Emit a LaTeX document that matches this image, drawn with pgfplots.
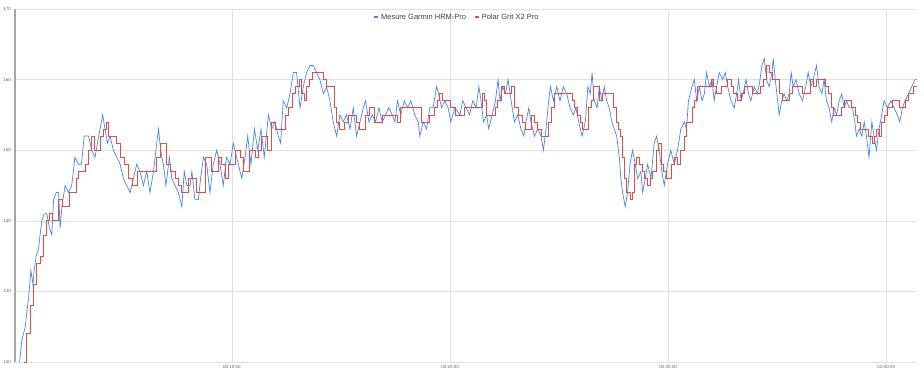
\documentclass[border=0pt]{standalone}
\usepackage{fontspec}
\setmainfont{Liberation Sans}
\usepackage{pgfplots}
\pgfplotsset{compat=1.18}
\definecolor{gblue}{HTML}{4285F4}
\definecolor{gred}{HTML}{EA4A3E}
\begin{document}
\begin{tikzpicture}
\path (-15pt,-13pt) rectangle (909pt,362pt);
\begin{axis}[
  at={(0pt,0pt)}, anchor=south west,
  scale only axis, width=902pt, height=353pt,
  xmin=0.05, xmax=41.41, ymin=120, ymax=170,
  axis lines*=left,
  x axis line style={draw=none},
  y axis line style={draw=black!35, line width=1.2pt},
  major tick length=0pt,
  tick style={draw=none},
  grid=major,
  grid style={draw=black!12, line width=0.6pt},
  ytick={120,130,140,150,160,170},
  xtick={10,20,30,40},
  xticklabels={00:10:00,00:20:00,00:30:00,00:40:00},
  /pgf/number format/assume math mode=true,
  tick label style={font=\fontsize{4.5}{5}\selectfont, text=black!60},
  yticklabel style={xshift=-0.5pt},
  legend style={at={(0.49,0.977)}, anchor=center, draw=none, fill=none,
    font=\fontsize{7.5}{9}\selectfont, text=black!75,
    legend columns=2, /tikz/every even column/.append style={column sep=6pt},
    inner sep=0pt},
  legend cell align=left,
]
\addplot[gblue, line width=0.7pt, sharp plot, legend image code/.code={\draw[line width=1.6pt] (0pt,0pt)--(4pt,0pt);}] coordinates {
(0.26,120)(0.36,123)(0.44,124)(0.52,125)(0.59,127)(0.67,129)(0.78,133)(0.87,131)(0.93,133)(1.02,135)
(1.13,136)(1.20,138)(1.28,140)(1.39,141)(1.51,141)(1.63,139)(1.74,138)(1.82,143)(1.94,144)(2.05,144)
(2.12,139)(2.20,142)(2.35,145)(2.50,144)(2.65,145)(2.80,149)(2.96,148)(3.10,148)(3.22,152)(3.42,152)
(3.57,150)(3.72,149)(3.83,151)(3.95,153)(4.07,155)(4.18,153)(4.29,151)(4.41,152)(4.56,150)(4.72,149)
(4.87,148)(5.02,146)(5.17,145)(5.33,144)(5.48,146)(5.63,148)(5.78,147)(5.94,145)(6.09,147)(6.24,144)
(6.40,147)(6.55,151)(6.63,153)(6.73,150)(6.85,148)(6.97,145)(7.13,149)(7.24,146)(7.39,145)(7.54,144)
(7.70,142)(7.81,147)(7.93,145)(8.08,145)(8.16,147)(8.30,143)(8.46,143)(8.56,146)(8.69,149)(8.84,148)
(8.99,144)(9.14,148)(9.30,150)(9.45,148)(9.60,145)(9.75,149)(9.91,148)(10.06,151)(10.21,149)(10.29,148)
(10.45,146)(10.60,149)(10.72,152)(10.87,148)(11.03,153)(11.18,150)(11.33,153)(11.48,149)(11.67,155)(11.82,153)
(11.97,154)(12.12,152)(12.23,151)(12.35,157)(12.51,156)(12.66,158)(12.81,161)(12.96,161)(13.12,156)(13.27,159)
(13.42,161)(13.58,162)(13.73,162)(13.88,161)(14.03,160)(14.19,158)(14.34,159)(14.49,157)(14.64,154)(14.80,152)
(14.95,155)(15.10,154)(15.25,155)(15.41,153)(15.56,156)(15.71,152)(15.87,154)(16.02,156)(16.12,157)(16.28,154)
(16.43,155)(16.58,154)(16.74,156)(16.89,154)(17.04,155)(17.19,156)(17.35,155)(17.47,154)(17.59,157)(17.74,155)
(17.90,157)(18.05,156)(18.20,157)(18.38,155)(18.54,154)(18.61,152)(18.77,154)(18.92,153)(19.07,156)(19.22,156)
(19.38,159)(19.48,158)(19.61,156)(19.76,157)(19.91,156)(20.03,154)(20.22,156)(20.45,155)(20.58,157)(20.74,156)
(20.89,155)(21.04,157)(21.19,156)(21.32,159)(21.42,157)(21.53,154)(21.68,155)(21.77,153)(21.93,155)(22.08,157)
(22.20,160)(22.29,157)(22.41,159)(22.54,158)(22.66,160)(22.80,157)(22.95,154)(23.10,155)(23.25,153)(23.38,152)
(23.48,154)(23.61,156)(23.71,154)(23.87,152)(24.02,153)(24.17,152)(24.28,150)(24.40,153)(24.52,157)(24.60,159)
(24.74,157)(24.89,159)(25.04,157)(25.19,159)(25.35,158)(25.50,156)(25.65,155)(25.77,156)(25.90,154)(26.05,152)
(26.20,154)(26.32,159)(26.43,158)(26.51,161)(26.61,157)(26.74,156)(26.84,159)(26.96,157)(27.07,159)(27.18,157)
(27.30,156)(27.42,154)(27.53,153)(27.64,152)(27.76,149)(27.83,146)(27.91,144)(28.03,142)(28.14,144)(28.25,148)
(28.37,150)(28.49,148)(28.60,146)(28.75,147)(28.83,144)(28.95,146)(29.06,148)(29.21,146)(29.36,151)(29.47,152)
(29.59,150)(29.71,147)(29.82,145)(29.97,148)(30.12,150)(30.28,148)(30.43,150)(30.58,153)(30.74,154)(30.84,153)
(30.93,157)(31.09,159)(31.20,160)(31.31,157)(31.43,159)(31.55,157)(31.66,158)(31.76,161)(31.89,159)(32.01,160)
(32.11,157)(32.22,159)(32.34,161)(32.50,160)(32.62,161)(32.73,159)(32.88,157)(33.03,156)(33.14,158)(33.23,160)
(33.34,157)(33.44,158)(33.57,160)(33.69,158)(33.79,157)(33.95,159)(34.10,158)(34.21,160)(34.30,162)(34.41,163)
(34.51,160)(34.63,159)(34.76,161)(34.82,163)(34.91,160)(35.02,157)(35.09,155)(35.21,157)(35.32,158)(35.43,157)
(35.55,158)(35.64,161)(35.73,159)(35.86,160)(36.01,158)(36.16,157)(36.31,159)(36.42,161)(36.54,159)(36.65,160)
(36.80,162)(36.92,159)(37.05,158)(37.15,160)(37.26,157)(37.38,156)(37.50,154)(37.61,156)(37.72,155)(37.84,157)
(37.96,158)(38.07,156)(38.18,157)(38.30,156)(38.45,156)(38.56,154)(38.63,152)(38.76,153)(38.88,152)(38.99,154)
(39.09,152)(39.21,149)(39.34,154)(39.44,152)(39.55,150)(39.67,153)(39.79,155)(39.90,157)(40.05,156)(40.21,157)
(40.36,156)(40.51,155)(40.62,154)(40.74,156)(40.86,157)(41.02,158)(41.17,159)(41.32,160)(41.41,160)
};
\addlegendentry{Mesure Garmin HRM-Pro}
\addplot[gred, line width=0.7pt, const plot, legend image code/.code={\draw[line width=1.6pt] (0pt,0pt)--(4pt,0pt);}] coordinates {
(0.47,120)(0.59,124)(0.75,128)(0.90,131)(1.05,134)(1.20,135)(1.36,138)(1.51,140)(1.63,141)(1.74,140)
(1.89,140)(2.05,143)(2.20,142)(2.40,142)(2.55,144)(2.73,144)(2.85,146)(2.96,147)(3.10,147)(3.27,148)
(3.42,150)(3.53,152)(3.68,150)(3.88,150)(3.98,152)(4.10,153)(4.23,154)(4.33,152)(4.49,152)(4.68,151)
(4.87,149)(5.07,148)(5.25,146)(5.41,145)(5.56,145)(5.68,147)(6.40,147)(6.55,149)(6.70,151)(6.85,151)
(6.97,148)(7.16,147)(7.39,146)(7.54,145)(7.70,144)(7.85,144)(8.00,146)(8.20,146)(8.38,144)(8.61,144)
(8.76,149)(8.99,149)(9.07,147)(9.22,147)(9.37,149)(9.52,148)(9.68,146)(9.83,148)(9.98,148)(10.14,150)
(10.37,149)(10.52,147)(10.67,147)(10.78,150)(10.98,150)(11.09,149)(11.21,150)(11.36,152)(11.51,152)(11.62,150)
(11.79,154)(11.97,153)(12.35,153)(12.46,155)(12.58,156)(12.77,158)(12.92,159)(13.07,160)(13.19,158)(13.32,157)
(13.42,159)(13.53,160)(13.68,161)(14.08,161)(14.19,160)(14.34,159)(14.57,159)(14.69,156)(14.80,154)(14.90,153)
(15.06,153)(15.15,154)(15.33,155)(15.56,155)(15.71,154)(15.82,153)(15.97,153)(16.10,155)(16.28,156)(16.43,156)
(16.55,154)(16.78,154)(16.89,155)(17.47,155)(17.59,154)(17.70,156)(18.54,156)(18.66,154)(19.00,154)(19.07,155)
(19.27,156)(19.42,157)(19.53,158)(19.64,157)(19.88,157)(19.99,156)(20.22,155)(20.64,156)(21.35,156)(21.47,158)
(21.57,157)(21.65,155)(21.96,155)(22.08,156)(22.19,157)(22.34,159)(22.49,158)(22.64,158)(22.80,159)(22.95,156)
(23.15,155)(23.30,154)(23.45,153)(23.61,153)(23.71,155)(23.87,154)(24.02,153)(24.17,152)(24.37,152)(24.52,154)
(24.63,156)(24.78,158)(25.47,158)(25.59,157)(25.70,156)(25.85,155)(25.96,154)(26.08,153)(26.23,153)(26.35,156)
(26.46,157)(26.57,159)(26.77,159)(26.84,157)(27.00,158)(27.38,158)(27.48,156)(27.61,154)(27.73,153)(27.83,152)
(27.91,149)(27.99,146)(28.09,144)(28.25,143)(28.34,144)(28.45,148)(28.55,149)(28.67,148)(28.80,147)(28.90,146)
(29.06,145)(29.16,146)(29.29,147)(29.44,150)(29.56,151)(29.67,148)(29.78,147)(29.90,146)(30.05,146)(30.14,148)
(30.28,149)(30.43,148)(30.58,150)(30.74,152)(30.84,154)(30.97,154)(31.09,156)(31.20,157)(31.35,159)(31.81,159)
(31.96,160)(32.07,159)(32.19,158)(32.31,158)(32.42,159)(32.57,159)(32.73,160)(32.88,159)(32.99,158)(33.18,157)
(33.34,158)(33.49,159)(33.69,159)(33.84,158)(34.10,158)(34.21,159)(34.36,160)(34.51,162)(34.63,161)(34.79,160)
(35.02,160)(35.12,158)(35.24,157)(35.40,157)(35.55,158)(35.70,159)(36.01,159)(36.16,158)(36.34,158)(36.50,160)
(36.65,159)(36.80,160)(37.08,160)(37.23,159)(37.35,158)(37.46,156)(37.57,155)(37.76,155)(37.92,156)(38.07,157)
(38.27,157)(38.42,156)(38.57,155)(38.68,154)(38.79,153)(39.06,153)(39.18,152)(39.34,151)(39.44,152)(39.55,153)
(39.67,152)(39.79,154)(39.90,155)(40.05,156)(40.28,157)(40.51,157)(40.62,156)(40.77,156)(40.89,157)(41.02,158)
(41.17,158)(41.23,159)(41.41,159)
};
\addlegendentry{Polar Grit X2 Pro}
\end{axis}
\end{tikzpicture}
\end{document}
